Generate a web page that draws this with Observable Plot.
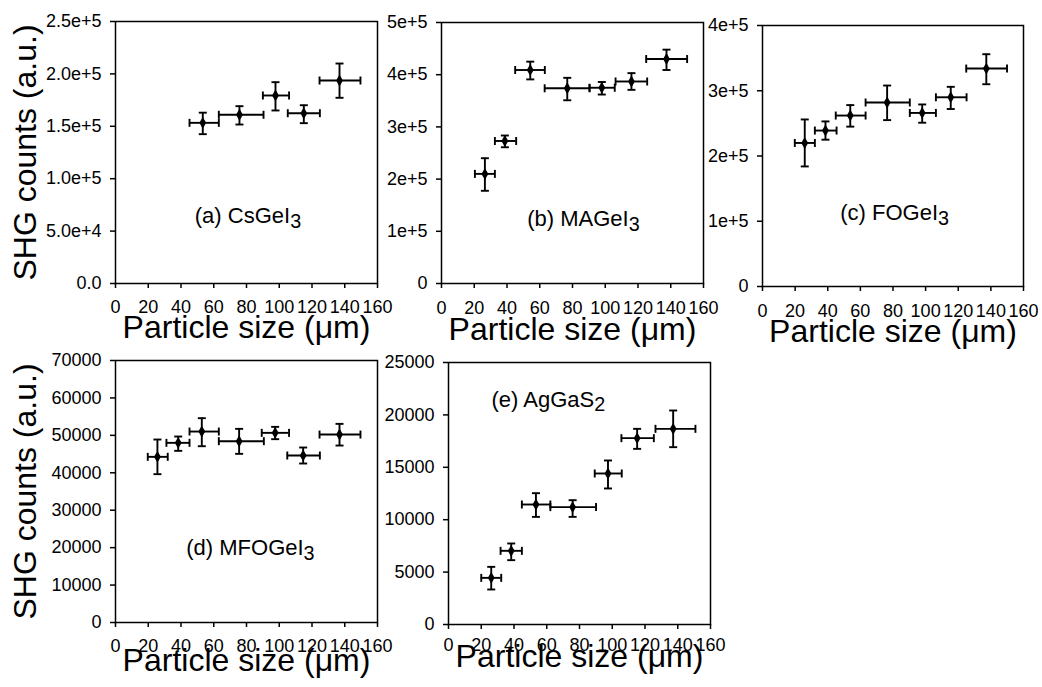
<!DOCTYPE html>
<html><head><meta charset="utf-8">
<script src="https://cdn.jsdelivr.net/npm/d3@7"></script>
<script src="https://cdn.jsdelivr.net/npm/@observablehq/plot@0.6"></script>
<style>
html,body{margin:0;padding:0;background:#fff;}
#chart{position:relative;width:1042px;height:687px;overflow:hidden;font-family:Arial,"Liberation Sans",sans-serif;background:#fff;}
#chart svg{position:absolute;}
</style></head><body><div id="chart"></div>
<script>
// ---------- Data ----------
const xTicks = [0, 20, 40, 60, 80, 100, 120, 140, 160];
const xTitle = "Particle size (μm)";
const yTitle = "SHG counts (a.u.)";

// (a) CsGeI3
const labelA = "(a) CsGeI₃";
const sizeA = [53.3, 75.7, 97.7, 115, 136.8];
const sizeLoA = [45.2, 63.1, 90, 105.2, 124.6];
const sizeHiA = [63.1, 90.4, 106, 124.8, 149.6];
const shgA = [153300, 161000, 179400, 162500, 193700];
const shgLoA = [142500, 151700, 165100, 153000, 177200];
const shgHiA = [163000, 169200, 192100, 170100, 209900];
const yTicksA = [0, 50000, 100000, 150000, 200000, 250000];

// (b) MAGeI3
const labelB = "(b) MAGeI₃";
const sizeB = [26.5, 38.7, 54.2, 76.8, 97.9, 116, 137.4];
const sizeLoB = [20.4, 32.6, 45, 63, 90.4, 106.3, 125];
const sizeHiB = [32.6, 45.6, 63.1, 90.4, 105.8, 125.6, 150];
const shgB = [210000, 273000, 409000, 374000, 375000, 387000, 430000];
const shgLoB = [177600, 261000, 391000, 351000, 362000, 371000, 409000];
const shgHiB = [240000, 283500, 425000, 394000, 386000, 403000, 448000];
const yTicksB = [0, 100000, 200000, 300000, 400000, 500000];

// (c) FOGeI3
const labelC = "(c) FOGeI₃";
const sizeC = [25.9, 38.6, 53.8, 76.4, 97.9, 115.4, 137.2];
const sizeLoC = [19.8, 32.1, 44.9, 63.2, 90.3, 106.3, 124.9];
const sizeHiC = [32.1, 45.4, 63.2, 90.3, 106.3, 125.1, 149.9];
const shgC = [220000, 239000, 262000, 282000, 266000, 290000, 334000];
const shgLoC = [184000, 225000, 245000, 255000, 251000, 272000, 310000];
const shgHiC = [256000, 253000, 278000, 308000, 279000, 306000, 356000];
const yTicksC = [0, 100000, 200000, 300000, 400000];

// (d) MFOGeI3
const labelD = "(d) MFOGeI₃";
const sizeD = [25.6, 38.3, 52.7, 75.5, 97.5, 114.6, 136.8];
const sizeLoD = [19.7, 31.1, 45.2, 63.1, 89.3, 104.9, 124.6];
const sizeHiD = [31.9, 45.2, 63.1, 90.6, 106, 124.8, 149.6];
const shgD = [44260, 48000, 51020, 48440, 50670, 44610, 50220];
const shgLoD = [39630, 45860, 47100, 45060, 48980, 42480, 47280];
const shgHiD = [48890, 49690, 54590, 51740, 52270, 46750, 53070];
const yTicksD = [0, 10000, 20000, 30000, 40000, 50000, 60000, 70000];

// (e) AgGaS2
const labelE = "(e) AgGaS₂";
const sizeE = [26.1, 38.3, 53.4, 75.8, 97.4, 115.2, 137.2];
const sizeLoE = [20, 31.8, 44.8, 62.2, 89.3, 105.6, 126.4];
const sizeHiE = [32.2, 44.8, 62.2, 90.1, 105.8, 125.4, 150.8];
const shgE = [4450, 7030, 11450, 11200, 14410, 17780, 18670];
const shgLoE = [3340, 6140, 10270, 10270, 12980, 16760, 16920];
const shgHiE = [5500, 7730, 12530, 11860, 15650, 18670, 20420];
const yTicksE = [0, 5000, 10000, 15000, 20000, 25000];

// ---------- Drawing ----------
const fmtA = d => d === 0 ? "0.0" : d3.format(".1e")(d);
const fmtE = d => d === 0 ? "0" : d3.format(".0e")(d);
const fmtInt = d3.format("d");

const vcap = {draw(ctx, size){const r = Math.sqrt(size/Math.PI); ctx.moveTo(0,-r); ctx.lineTo(0,r);}};
const hcap = {draw(ctx, size){const r = Math.sqrt(size/Math.PI); ctx.moveTo(-r,0); ctx.lineTo(r,0);}};

const panels = [
  {label: labelA, lx: 80.9, ly: 64000, x: sizeA, xlo: sizeLoA, xhi: sizeHiA, y: shgA, ylo: shgLoA, yhi: shgHiA,
   yDomain: [0, 250000], yTicks: yTicksA, fmt: fmtA, frame: {left:115, top:21, right:377, bottom:283}, yTitle: true, xdy: 54, xpad: 12},
  {label: labelB, lx: 86.7, ly: 124500, x: sizeB, xlo: sizeLoB, xhi: sizeHiB, y: shgB, ylo: shgLoB, yhi: shgHiB,
   yDomain: [0, 500000], yTicks: yTicksB, fmt: fmtE, frame: {left:441, top:22, right:703, bottom:283}, yTitle: false, xdy: 56, xpad: 13},
  {label: labelC, lx: 81, ly: 113000, x: sizeC, xlo: sizeLoC, xhi: sizeHiC, y: shgC, ylo: shgLoC, yhi: shgHiC,
   yDomain: [0, 400000], yTicks: yTicksC, fmt: fmtE, frame: {left:762, top:25, right:1023, bottom:286}, yTitle: false, xdy: 55, xpad: 13},
  {label: labelD, lx: 82.4, ly: 19800, x: sizeD, xlo: sizeLoD, xhi: sizeHiD, y: shgD, ylo: shgLoD, yhi: shgHiD,
   yDomain: [0, 70000], yTicks: yTicksD, fmt: fmtInt, frame: {left:115, top:360, right:377, bottom:622}, yTitle: true, xdy: 48, xpad: 12},
  {label: labelE, lx: 61, ly: 21470, x: sizeE, xlo: sizeLoE, xhi: sizeHiE, y: shgE, ylo: shgLoE, yhi: shgHiE,
   yDomain: [0, 25000], yTicks: yTicksE, fmt: fmtInt, frame: {left:448, top:362, right:710, bottom:624}, yTitle: false, xdy: 42, xpad: 9}
];

const chart = document.getElementById("chart");
const SVGNS = "http://www.w3.org/2000/svg";

function subscriptify(svg){
  const map = {"₂":"2","₃":"3"};
  svg.querySelectorAll("text").forEach(t => {
    const s = t.textContent;
    const m = s.match(/^(.*?)([₂₃])$/);
    if (!m) return;
    t.textContent = m[1];
    const ts = document.createElementNS(SVGNS, "tspan");
    ts.setAttribute("dy", "0.25em");
    ts.setAttribute("font-size", "0.9em");
    ts.textContent = map[m[2]];
    t.appendChild(ts);
  });
}

for (const p of panels) {
  const ml = p.yTitle ? 115 : 80, mr = 25, mt = 10, mb = 70;
  const fw = p.frame.right - p.frame.left, fh = p.frame.bottom - p.frame.top;
  const rows = p.x.map((x, i) => ({x, xlo: p.xlo[i], xhi: p.xhi[i], y: p.y[i], ylo: p.ylo[i], yhi: p.yhi[i]}));
  const sw = 1.9;
  const marks = [
    Plot.frame({stroke: "black", strokeWidth: 1.5}),
    Plot.axisX({ticks: xTicks, tickSize: 5, tickPadding: p.xpad, fontSize: 18, label: null, tickFormat: d => String(d), strokeWidth: 1.5}),
    Plot.axisY({ticks: p.yTicks, tickSize: 5, tickPadding: 9, fontSize: 18, label: null, tickFormat: p.fmt, strokeWidth: 1.5}),
    Plot.ruleY(rows, {y: "y", x1: "xlo", x2: "xhi", stroke: "black", strokeWidth: sw}),
    Plot.ruleX(rows, {x: "x", y1: "ylo", y2: "yhi", stroke: "black", strokeWidth: sw}),
    Plot.dot(rows, {x: "xlo", y: "y", symbol: vcap, r: 4, stroke: "black", fill: "none", strokeWidth: sw}),
    Plot.dot(rows, {x: "xhi", y: "y", symbol: vcap, r: 4, stroke: "black", fill: "none", strokeWidth: sw}),
    Plot.dot(rows, {x: "x", y: "ylo", symbol: hcap, r: 4, stroke: "black", fill: "none", strokeWidth: sw}),
    Plot.dot(rows, {x: "x", y: "yhi", symbol: hcap, r: 4, stroke: "black", fill: "none", strokeWidth: sw}),
    Plot.dot(rows, {x: "x", y: "y", symbol: "diamond", r: 3.6, fill: "black", stroke: "none"}),
    Plot.text([{t: p.label, x: p.lx, y: p.ly}], {x: "x", y: "y", text: "t", fontSize: 22, fill: "black"}),
    Plot.text([xTitle], {text: d => d, frameAnchor: "bottom", textAnchor: "middle", dy: p.xdy, fontSize: 32, fill: "black"})
  ];
  if (p.yTitle) marks.push(Plot.text([yTitle], {text: d => d, frameAnchor: "left", textAnchor: "middle", dx: -90, rotate: -90, fontSize: 32, fill: "black"}));
  const svg = Plot.plot({
    width: ml + fw + mr, height: mt + fh + mb,
    marginLeft: ml, marginRight: mr, marginTop: mt, marginBottom: mb,
    x: {domain: [0, 160]},
    y: {domain: p.yDomain},
    style: {fontFamily: "Arial, 'Liberation Sans', sans-serif", background: "transparent", overflow: "visible", color: "black"},
    marks
  });
  subscriptify(svg);
  svg.style.left = (p.frame.left - ml) + "px";
  svg.style.top = (p.frame.top - mt) + "px";
  chart.appendChild(svg);
}
</script></body></html>
